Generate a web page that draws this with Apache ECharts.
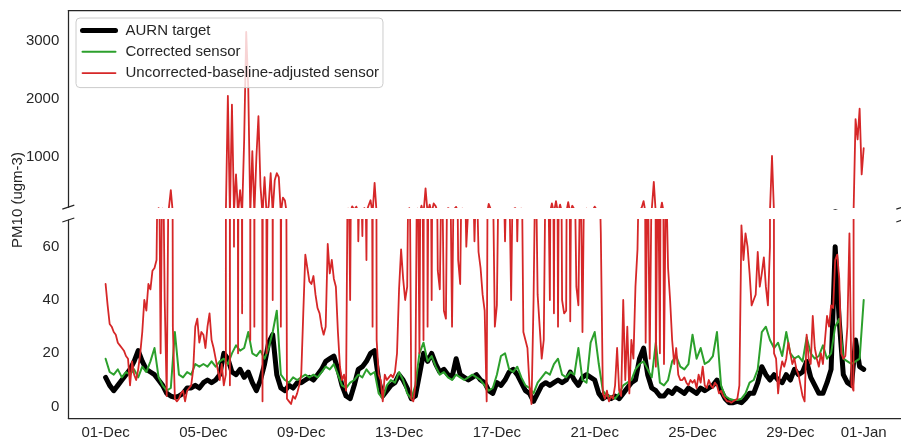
<!DOCTYPE html>
<html>
<head>
<meta charset="utf-8">
<script src="https://cdn.jsdelivr.net/npm/echarts@6/dist/echarts.min.js"></script>
<style>
  html, body { margin: 0; padding: 0; background: #fff; }
  #chart { width: 901px; height: 442px; }
</style>
</head>
<body>
<div id="chart"></div>
<script>
// hours since 01-Dec 00:00 for the date labels
var tickHours = [0, 96, 192, 288, 384, 480, 576, 672, 744];
var tickLabels = ['01-Dec', '05-Dec', '09-Dec', '13-Dec', '17-Dec', '21-Dec', '25-Dec', '29-Dec', '01-Jan'];
var lowTicks = [0, 20, 40, 60];
var highTicks = [1000, 2000, 3000];

// AURN target, one value every 4 hours (ugm-3)
var aurnStep = 4;
var aurn = [
  11, 8, 6, 8, 10, 12, 14, 17, 21, 17, 14, 13,
  12, 10, 8, 5, 4, 3.5, 4, 5, 7, 7, 8, 7,
  9, 10, 9, 10, 12, 20, 18, 13, 12, 14, 11, 13,
  9, 6, 10, 16, 24, 27, 12, 7, 6, 8, 7, 9,
  9, 10, 11, 10, 12, 14, 17, 18, 19, 14, 8, 4,
  3, 8, 14, 15, 17, 20, 21, 10, 4, 6, 8, 9,
  12, 10, 7, 3, 4, 12, 20, 17, 20, 16, 13, 14,
  12, 11, 18, 12, 11, 10, 11, 12, 10, 9, 6, 5,
  9, 8, 10, 13, 14, 12, 9, 6, 5, 2, 5, 8,
  9, 8, 9, 10, 9, 10, 13, 10, 8, 11, 12, 11,
  10, 5, 3, 4, 3, 4, 3, 5, 7, 9, 10, 18,
  22, 12, 7, 6, 4, 4, 6, 5, 7, 6, 5, 7,
  6, 5, 7, 6, 7, 8, 10, 6, 3, 1.5, 1.5, 2,
  1.5, 3, 5, 5, 9, 15, 12, 10, 12, 10, 9, 12,
  10, 14, 12, 13, 17, 11, 8, 5, 5, 9, 14, 60,
  32, 12, 9, 8, 25, 15, 14
];

// corrected sensor, one value every 4 hours
var correctedStep = 4;
var corrected = [
  18, 13, 12, 14, 11, 13, 12, 14, 11, 15, 13, 17,
  22, 11, 8, 6, 7, 28, 12, 11, 13, 12, 16, 15,
  16, 15, 17, 15, 17, 18, 16, 20, 23, 21, 22, 28,
  20, 19, 21, 18, 22, 28, 36, 12, 10, 9, 11, 10,
  11, 12, 11, 12, 11, 13, 15, 14, 16, 12, 8, 7,
  9, 10, 12, 11, 14, 12, 13, 5, 3, 8, 10, 9,
  13, 10, 5, 3, 8, 20, 24, 17, 19, 15, 12, 13,
  11, 10, 12, 11, 10, 11, 12, 11, 10, 8, 6, 7,
  12, 19, 20, 14, 13, 15, 11, 8, 7, 5, 9, 11,
  13, 12, 16, 18, 12, 11, 13, 12, 22, 10, 9, 24,
  28, 16, 6, 4, 4, 3, 5, 8, 9, 10, 14, 16,
  17, 14, 11, 24, 9, 8, 10, 17, 19, 15, 14, 16,
  27, 18, 22, 16, 17, 19, 28, 8, 4, 3, 2.5, 2.5,
  3, 5, 9, 10, 14, 28, 30, 25, 22, 24, 19, 28,
  20, 18, 19, 17, 26, 20, 18, 19, 23, 18, 20, 30,
  33, 18, 17, 16, 17, 18, 40
];

// uncorrected baseline-adjusted sensor, one value every 2 hours
var uncorrectedStep = 2;
var uncorrected = [
  46, 38, 31, 30, 28, 27, 24, 23, 22, 21, 19, 18,
  8, 17, 12, 10, 14, 20, 28, 40, 36, 46, 44, 51,
  52, 55, 120, 20, 110, 40, 4, 100, 430, 30, 3, 2,
  3, 5, 6, 2, 6, 7, 8, 14, 30, 33, 24, 28,
  27, 22, 30, 35, 25, 22, 18, 14, 10, 16, 8, 12,
  2050, 8, 1900, 60, 700, 20, 430, 35, 1300, 3150, 2200, 25,
  1100, 30, 1000, 1700, 500, 2, 650, 20, 150, 720, 40, 600,
  720, 650, 30, 300, 250, 3, 2, 1, 4, 3, 5, 8,
  12, 35, 57, 52, 47, 46, 49, 42, 37, 35, 30, 27,
  30, 61, 50, 55, 48, 45, 28, 15, 10, 12, 6, 110,
  40, 150, 90, 145, 62, 100, 64, 120, 55, 160, 255, 30,
  553, 25, 12, 10, 2, 12, 10, 11, 12, 11, 13, 20,
  44, 59, 48, 40, 45, 120, 3, 2, 8, 110, 20, 160,
  25, 460, 30, 180, 40, 200, 150, 51, 44, 100, 36, 33,
  120, 100, 30, 100, 140, 55, 46, 110, 100, 60, 75, 90,
  100, 62, 90, 58, 52, 42, 36, 2, 190, 100, 90, 30,
  38, 100, 80, 100, 62, 100, 90, 40, 100, 120, 62, 100,
  110, 28, 25, 22, 8, 1, 40, 100, 42, 30, 18, 25,
  100, 100, 40, 200, 35, 240, 30, 180, 40, 35, 36, 220,
  32, 160, 100, 45, 38, 100, 28, 100, 110, 90, 100, 80,
  145, 90, 100, 65, 5, 3, 6, 2, 4, 3, 8, 22,
  6, 4, 40, 10, 30, 5, 25, 18, 45, 59, 100, 120,
  240, 24, 100, 18, 90, 570, 15, 100, 20, 215, 16, 90,
  52, 40, 25, 16, 22, 12, 10, 10, 11, 9, 8, 10,
  9, 10, 7, 12, 9, 15, 8, 7, 10, 8, 7, 9,
  8, 5, 6, 4, 3, 2, 2, 1.5, 2, 2.5, 3, 8,
  68, 55, 65, 60, 50, 38, 40, 42, 58, 45, 50, 56,
  45, 38, 60, 1017, 20, 18, 5, 13, 17, 15, 18, 24,
  20, 16, 18, 14, 12, 8, 4, 2, 27, 18, 16, 34,
  22, 18, 15, 20, 16, 25, 34, 30, 38, 37, 55, 57,
  48, 20, 18, 19, 30, 65, 8, 6, 1650, 1300, 1830, 700,
  1150
];

var INK = '#262626';
var FONT = '"Liberation Sans", Arial, sans-serif';

function toPairs(values, step) {
  return values.map(function (v, i) {
    return [i * step, v]
  })
}

var lines = [
  { name: 'AURN target', values: aurn, step: aurnStep, color: '#000000', width: 5 },
  { name: 'Corrected sensor', values: corrected, step: correctedStep, color: '#2ca02c', width: 2 },
  { name: 'Uncorrected-baseline-adjusted sensor', values: uncorrected, step: uncorrectedStep, color: '#d62728', width: 1.8 }
];

// both panels get every series, each clipped to its own y range
var series = [];
[0, 1].forEach(function (g) {
  lines.forEach(function (l) {
    series.push({
      name: l.name,
      type: 'line',
      xAxisIndex: g,
      yAxisIndex: g,
      data: toPairs(l.values, l.step),
      symbol: 'none',
      showSymbol: false,
      clip: true,
      silent: true,
      lineStyle: { color: l.color, width: l.width, join: 'round', cap: 'round' },
      itemStyle: { color: l.color },
      emphasis: { disabled: true }
    })
  })
});

function spine() {
  return { show: true, onZero: false, lineStyle: { color: INK, width: 1.25 } }
}

var labelStyle = { color: INK, fontSize: 15, fontFamily: FONT };

function plainNumber(v) {
  return String(v)
}

function breakMark(x, y) {
  return {
    type: 'line',
    shape: { x1: x - 6, y1: y + 2, x2: x + 6, y2: y - 2 },
    style: { stroke: INK, lineWidth: 1.25 },
    silent: true
  }
}

var myChart = echarts.init(document.getElementById('chart'));
var option = {
  animation: false,
  grid: [
    { left: 68.3, top: 10.7, width: 834, height: 196.5 },
    { left: 68.3, top: 220, width: 834, height: 198.3 }
  ],
  xAxis: [{
    gridIndex: 0,
    type: 'value',
    min: -36.6,
    max: 780.6,
    position: 'top',
    axisLine: spine(),
    axisTick: { show: false },
    axisLabel: { show: false },
    splitLine: { show: false }
  }, {
    gridIndex: 1,
    type: 'value',
    min: -36.6,
    max: 780.6,
    position: 'bottom',
    axisLine: spine(),
    axisTick: { show: false },
    splitLine: { show: false },
    axisLabel: Object.assign({
      customValues: tickHours,
      margin: 7,
      formatter: function (v) {
        return tickLabels[tickHours.indexOf(v)]
      }
    }, labelStyle)
  }],
  yAxis: [{
    gridIndex: 0,
    type: 'value',
    min: 135,
    max: 3515,
    axisLine: spine(),
    axisTick: { show: false },
    splitLine: { show: false },
    axisLabel: Object.assign({ customValues: highTicks, margin: 9, formatter: plainNumber }, labelStyle)
  }, {
    gridIndex: 1,
    type: 'value',
    min: -4.35,
    max: 70,
    axisLine: spine(),
    axisTick: { show: false },
    splitLine: { show: false },
    axisLabel: Object.assign({ customValues: lowTicks, margin: 9, formatter: plainNumber }, labelStyle)
  }],
  legend: {
    orient: 'vertical',
    left: 76,
    top: 18,
    padding: [5, 4, 7, 4],
    itemGap: 6.3,
    itemWidth: 33,
    itemHeight: 15,
    backgroundColor: 'rgba(255,255,255,0.8)',
    borderColor: '#cccccc',
    borderWidth: 1,
    borderRadius: 4,
    textStyle: { color: INK, fontSize: 15, fontFamily: FONT, padding: [0, 0, 0, 5] },
    data: lines.map(function (l) {
      return {
        name: l.name,
        lineStyle: { color: l.color, width: l.width },
        itemStyle: { opacity: 0 }
      }
    })
  },
  graphic: [{
    type: 'text',
    x: 18,
    y: 200,
    rotation: Math.PI / 2,
    style: {
      text: 'PM10 (ugm-3)',
      fill: INK,
      font: '15px ' + FONT,
      textAlign: 'center',
      textVerticalAlign: 'middle'
    }
  },
    breakMark(68.3, 207.2),
    breakMark(68.3, 220),
    breakMark(902.3, 207.2),
    breakMark(902.3, 220)
  ],
  series: series
};
myChart.setOption(option);
</script>
</body>
</html>
